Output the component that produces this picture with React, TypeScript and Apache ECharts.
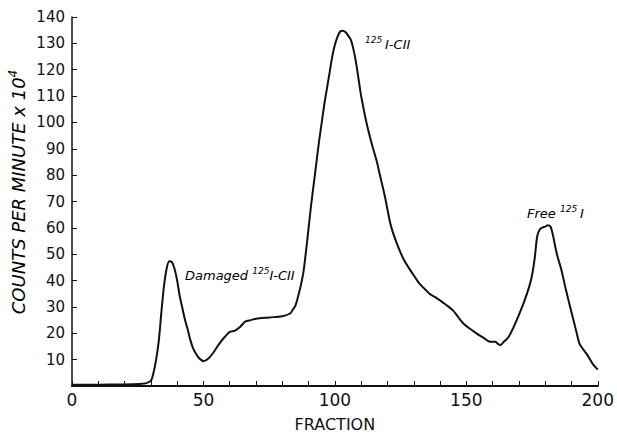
import React, { useEffect, useRef } from "react";
import * as echarts from "echarts";

const fractions = [
  0, 10, 20, 26, 28, 30, 31, 32, 33, 34, 35, 36, 37, 38, 39, 40, 41, 42, 43, 44, 45, 46, 47, 48, 49, 50,
  52, 54, 56, 58, 60, 62, 64, 66, 68, 70, 75, 80, 83, 84, 85, 86, 87, 88, 89, 90, 91, 92, 93, 94, 95,
  96, 97, 98, 99, 100, 101, 102, 103, 104, 105, 106, 107, 108, 109, 110, 112, 114, 116, 117, 119, 121,
  122, 124, 126, 128, 130, 132, 134, 136, 138, 140, 142, 145, 147, 149, 151, 154, 157, 159, 161, 162,
  163, 164, 166, 168, 170, 172, 174, 175, 176, 177, 178, 179, 180, 181, 182, 183, 184, 185, 186, 188,
  190, 191, 192, 193, 194, 196, 198, 200,
];
const counts = [
  0.5, 0.5, 0.6, 0.8, 1.0, 2, 5, 10, 17, 28, 38, 44.5, 47.3, 47, 44.5, 40, 34, 29.5, 25, 21.5, 17.5, 14.5,
  12.5, 11, 10, 9.4, 10.5, 13, 16, 18.5, 20.5, 21, 22.5, 24.5, 25, 25.5, 26, 26.5, 27.5, 29, 30.5, 34, 38,
  43, 51, 60, 69, 77, 85, 93, 100, 107, 113, 119, 125, 129.5, 132.5, 134.5, 134.8, 134.3, 133, 131.5,
  128, 123, 116.5, 110, 100, 92, 85, 80.6, 72, 62, 58.5, 53, 48.4, 45, 42, 39, 37, 35, 33.8, 32.5, 31,
  28.6, 26, 23.6, 22, 19.9, 18, 16.8, 16.8, 16, 15.6, 16.5, 18.5, 22.4, 27, 32, 38, 42, 48.4, 57, 59.5,
  60.1, 60.5, 61, 60.5, 57, 52, 48, 44.7, 36, 28, 24, 20, 16.2, 14.5, 11.8, 8.5, 6.2,
];
const yTicks = [0, 140, 10];
const xTicks = [0, 200, 50];

export default function App() {
  const ref = useRef<HTMLDivElement>(null);
  useEffect(() => {
    if (!ref.current) return;
    const chart = echarts.init(ref.current, null, { renderer: "svg" });
    const data = fractions.map((f, i) => [f, counts[i]]);
    const ital = { fontStyle: "italic", fontFamily: "DejaVu Sans", fontSize: 13, color: "#111", lineHeight: 18 };
    const sup = { fontStyle: "italic", fontFamily: "DejaVu Sans", fontSize: 9, color: "#111", verticalAlign: "top" };
    chart.setOption({
      animation: false,
      backgroundColor: "#fff",
      grid: { left: 72, right: 19, top: 17, bottom: 43.5 },
      xAxis: {
        type: "value",
        min: xTicks[0],
        max: xTicks[1],
        interval: xTicks[2],
        name: "FRACTION",
        nameLocation: "middle",
        nameGap: 30,
        nameTextStyle: { fontFamily: "DejaVu Sans", fontSize: 16, color: "#111" },
        axisLine: { lineStyle: { color: "#111", width: 2 } },
        axisTick: { inside: true, length: 5, lineStyle: { color: "#111", width: 1 } },
        minorTick: { show: true, splitNumber: 5, length: 5, lineStyle: { color: "#111", width: 1 } },
        axisLabel: { fontFamily: "DejaVu Sans", fontSize: 17, color: "#111", margin: 5 },
        splitLine: { show: false },
      },
      yAxis: {
        type: "value",
        min: yTicks[0],
        max: yTicks[1],
        interval: yTicks[2],
        axisLine: { show: true, lineStyle: { color: "#111", width: 1.5 } },
        axisTick: { inside: true, length: 5, lineStyle: { color: "#111", width: 1 } },
        axisLabel: {
          fontFamily: "DejaVu Sans",
          fontSize: 15,
          color: "#111",
          margin: 7,
          formatter: (v: number) => (v === 0 ? "" : String(v)),
        },
        splitLine: { show: false },
      },
      series: [
        {
          type: "line",
          data,
          smooth: 0.3,
          symbol: "none",
          lineStyle: { color: "#111", width: 2 },
        },
      ],
      graphic: [
        {
          type: "text",
          x: 18,
          y: 192,
          rotation: Math.PI / 2,
          style: {
            text: "{a|COUNTS PER MINUTE x 10}{s|4}",
            align: "center",
            verticalAlign: "middle",
            rich: {
              a: { fontStyle: "italic", fontFamily: "DejaVu Sans", fontSize: 18, color: "#111", lineHeight: 22 },
              s: { fontStyle: "italic", fontFamily: "DejaVu Sans", fontSize: 12, color: "#111", verticalAlign: "top" },
            },
          },
        },
        {
          type: "text",
          x: 185,
          y: 275,
          style: {
            text: "{i|Damaged }{s|125}{i|I-CII}",
            align: "left",
            verticalAlign: "middle",
            rich: { i: ital, s: sup },
          },
        },
        {
          type: "text",
          x: 365,
          y: 44,
          style: {
            text: "{s|125 }{i|I-CII}",
            align: "left",
            verticalAlign: "middle",
            rich: { i: ital, s: sup },
          },
        },
        {
          type: "text",
          x: 527,
          y: 213,
          style: {
            text: "{i|Free }{s|125 }{i|I}",
            align: "left",
            verticalAlign: "middle",
            rich: { i: ital, s: sup },
          },
        },
      ],
    });
    return () => chart.dispose();
  }, []);
  return <div ref={ref} style={{ position: "fixed", left: 0, top: 0, width: 617, height: 437 }} />;
}
